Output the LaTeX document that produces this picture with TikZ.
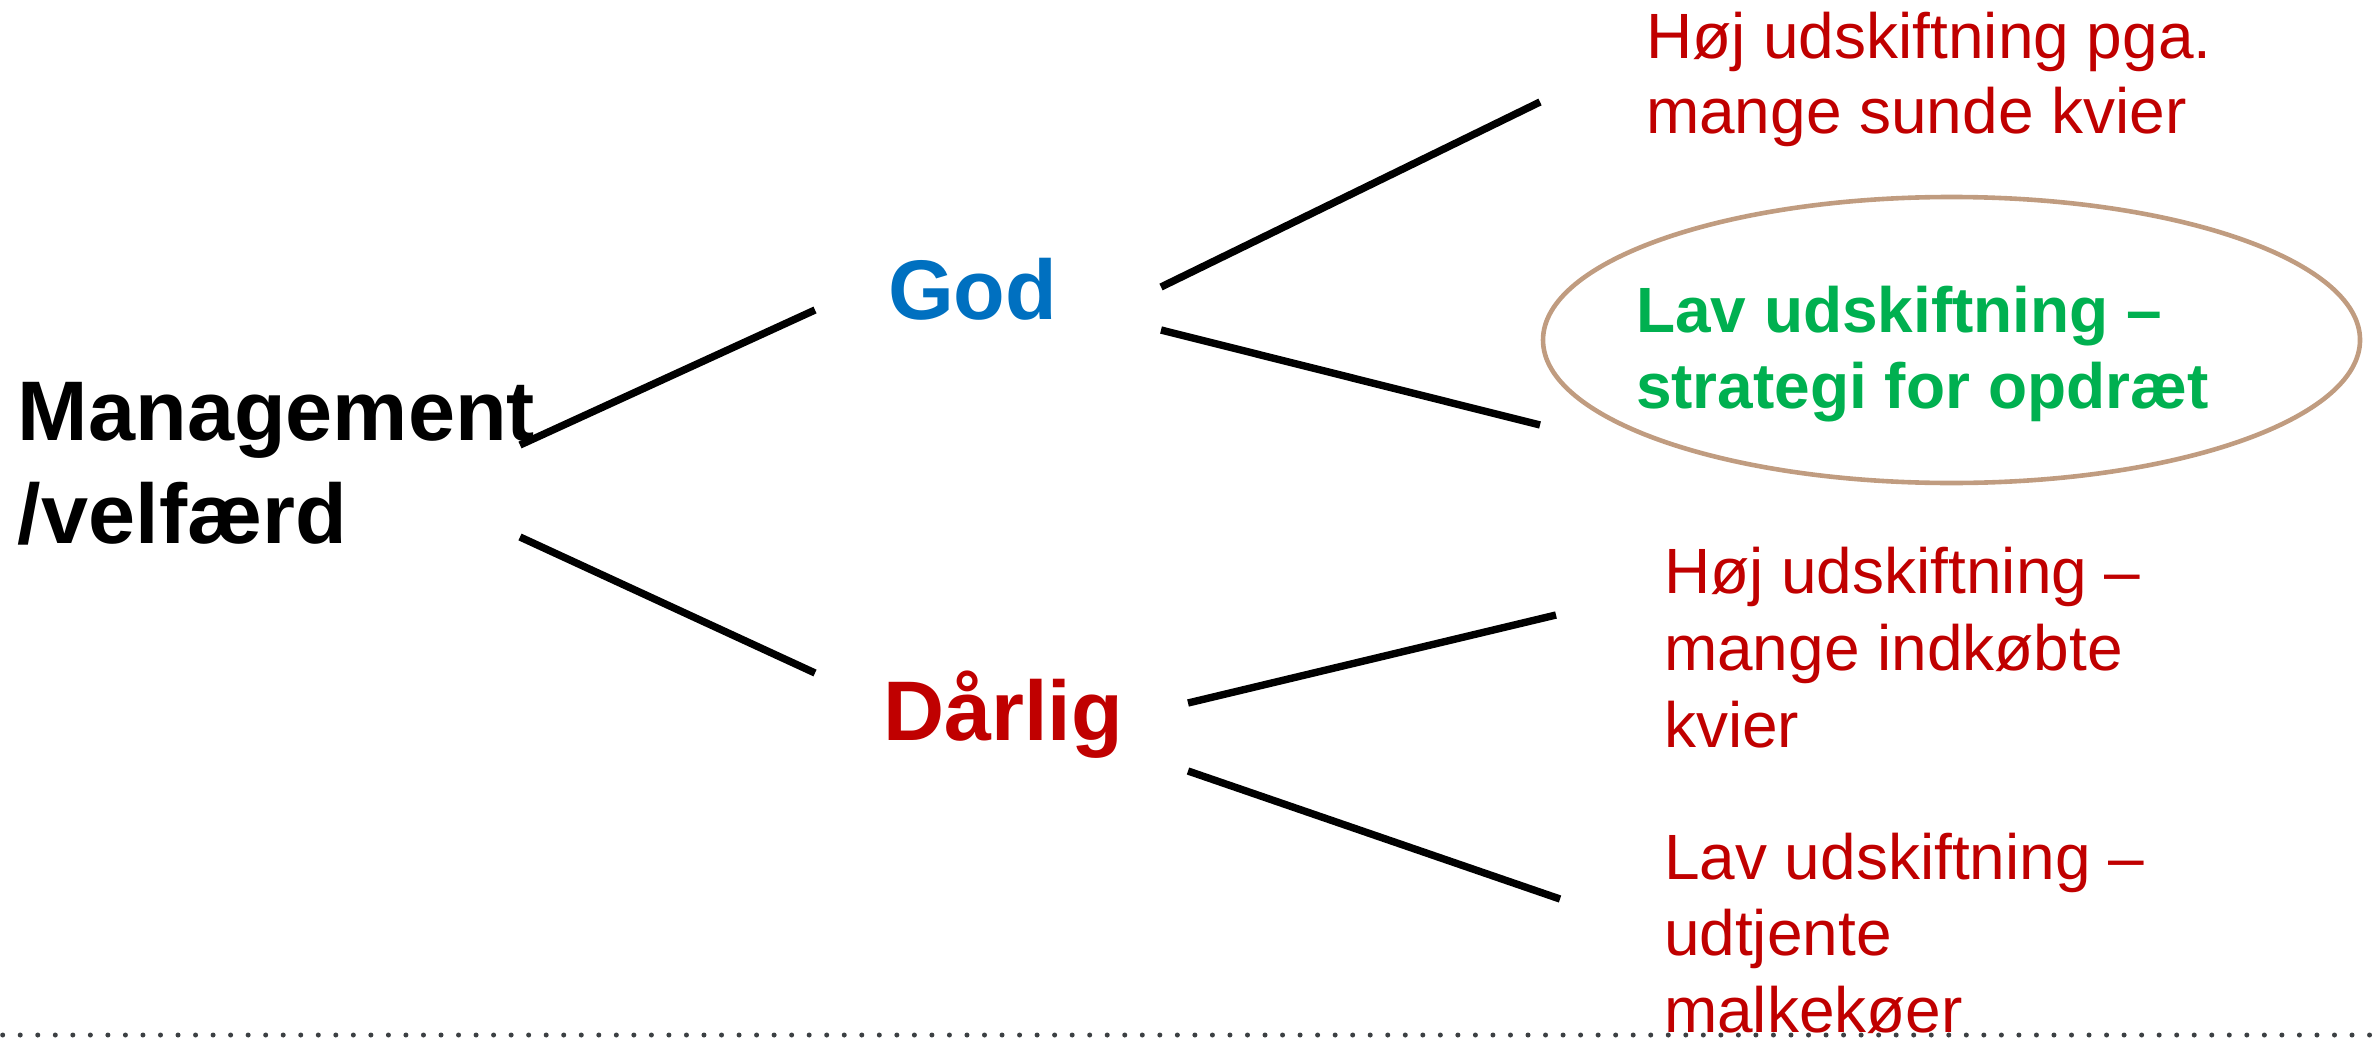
\documentclass[tikz,border=0pt]{standalone}
\usepackage{fontspec}
\setmainfont{Liberation Sans}
\usetikzlibrary{shapes.geometric}
\definecolor{myred}{HTML}{C00000}
\definecolor{myblue}{HTML}{0070C0}
\definecolor{mygreen}{HTML}{00B050}
\definecolor{mytan}{HTML}{C09C80}
\definecolor{mydots}{HTML}{3C4043}
\tikzset{
  bigb/.style={font=\fontsize{42.3}{51.5}\selectfont\bfseries, inner sep=0pt, outer sep=0pt, align=left},
  smalltxt/.style={inner sep=0pt, outer sep=0pt, align=left, text=myred},
  branch/.style={draw=black, line width=3.7pt, line cap=butt},
  dotline/.style={draw=mydots, line width=2.5pt, line cap=round, dash pattern=on 0pt off 8.766pt},
}
\begin{document}
\begin{tikzpicture}[x=0.5pt,y=-0.5pt]
\useasboundingbox (0,0) rectangle (2380,1038);
% dotted rule at the bottom
\coordinate (dotL) at (2.7,1035);
\coordinate (dotR) at (2380,1035);
\draw[dotline] (dotL) -- (dotR);

% ellipse
\node[ellipse, draw=mytan, line width=2.3pt, minimum width=408.5pt, minimum height=143pt, inner sep=0pt] (oval) at (1951.5,340) {};

% texts
\node[bigb, anchor=north west] (mgmt) at (18,382) {Management\\/velfærd};
\node[bigb, text=myblue, anchor=base west] (god) at (888,319) {God};
\node[bigb, text=myred, anchor=base west] (darlig) at (883,740) {Dårlig};

\node[smalltxt, font=\fontsize{32}{37.5}\selectfont, anchor=north west] (hoj1) at (1646,12) {Høj udskiftning pga.\\mange sunde kvier};
\node[smalltxt, text=mygreen, font=\fontsize{32}{38}\selectfont\bfseries, anchor=north west] (lav1) at (1636,286) {Lav udskiftning –\\strategi for opdræt};
\node[smalltxt, font=\fontsize{32}{38.5}\selectfont, anchor=north west] (hoj2) at (1664,547) {Høj udskiftning –\\mange indkøbte\\kvier};
\node[smalltxt, font=\fontsize{32}{38.25}\selectfont, anchor=north west] (lav2) at (1664,833) {Lav udskiftning –\\udtjente\\malkekøer};

% connector ends
\coordinate (m1) at (520,445);
\coordinate (g1) at (815,310);
\coordinate (m2) at (520,537);
\coordinate (d1) at (815,673);
\coordinate (g2) at (1161,287);
\coordinate (t1) at (1540,102);
\coordinate (g3) at (1161,330);
\coordinate (e1) at (1540,425);
\coordinate (d2) at (1188,703);
\coordinate (h1) at (1556,615);
\coordinate (d3) at (1188,771);
\coordinate (l1) at (1560,899);

\draw[branch] (m1) -- (g1);
\draw[branch] (m2) -- (d1);
\draw[branch] (g2) -- (t1);
\draw[branch] (g3) -- (e1);
\draw[branch] (d2) -- (h1);
\draw[branch] (d3) -- (l1);
\end{tikzpicture}
\end{document}
